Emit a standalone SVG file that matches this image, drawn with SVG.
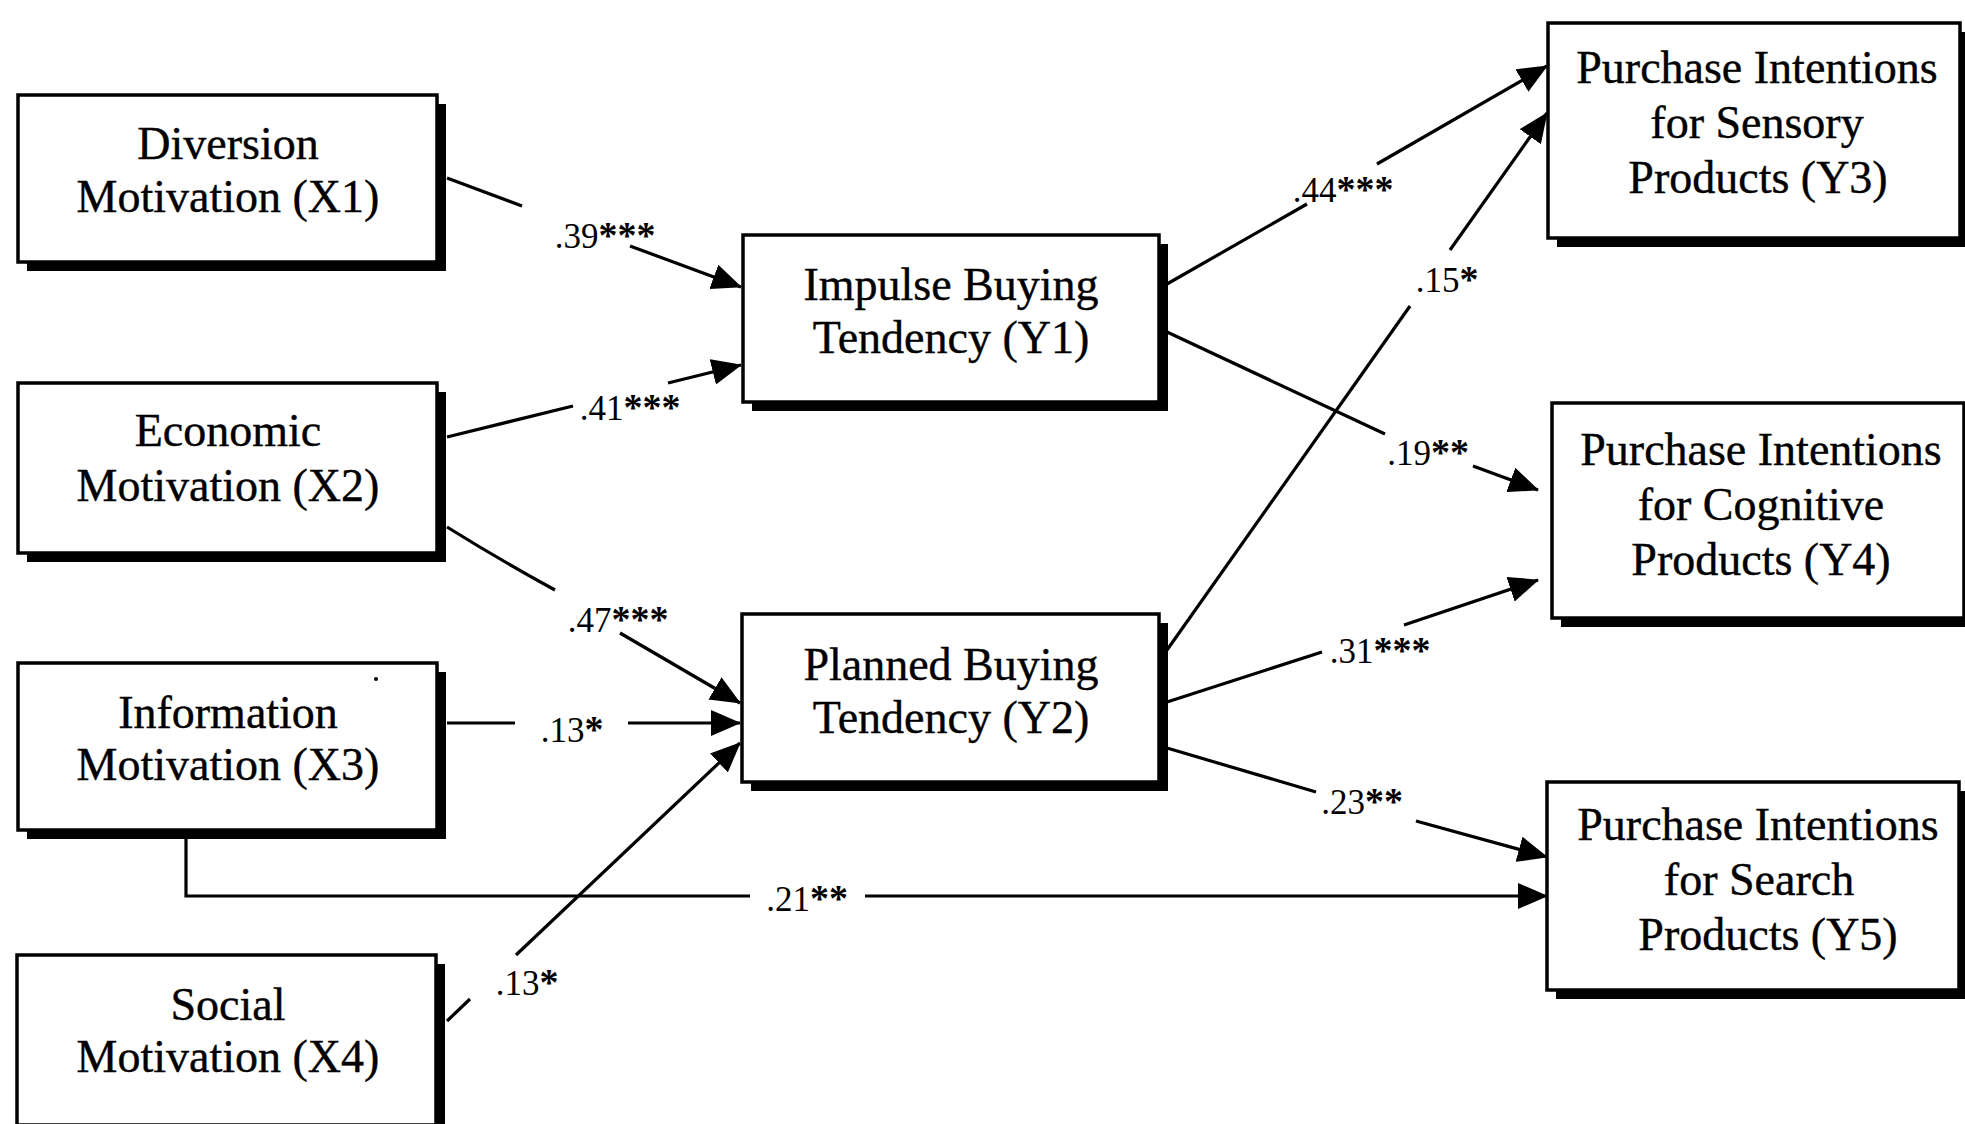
<svg xmlns="http://www.w3.org/2000/svg" width="1965" height="1124" viewBox="0 0 1965 1124">
<style>
.sh{fill:#000}
.bx{fill:#fff;stroke:#000;stroke-width:3.5}
.t{font-family:"Liberation Serif","Times New Roman",serif;font-size:46px;fill:#000;text-anchor:middle;stroke:#000;stroke-width:0.4}
.l{font-family:"Liberation Serif","Times New Roman",serif;font-size:35px;fill:#000;text-anchor:middle}
.a{font-weight:bold;font-size:38px}
.c{fill:none;stroke:#000;stroke-width:3.2}
</style>
<defs>
<marker id="ah" markerUnits="userSpaceOnUse" markerWidth="30" markerHeight="26" viewBox="0 0 30 26" refX="29" refY="13" orient="auto">
<path d="M0,0 L30,13 L0,26 Z" fill="#000"/>
</marker>
</defs>
<rect width="1965" height="1124" fill="#fff"/>
<g id="x1"><rect class="sh" x="27" y="104" width="419" height="167"/><rect class="bx" x="18" y="95" width="419" height="167"/><text class="t" x="228" y="159">Diversion</text><text class="t" x="228" y="212">Motivation (X1)</text></g>
<g id="x2"><rect class="sh" x="27" y="392" width="419" height="170"/><rect class="bx" x="18" y="383" width="419" height="170"/><text class="t" x="228" y="446">Economic</text><text class="t" x="228" y="501">Motivation (X2)</text></g>
<g id="x3"><rect class="sh" x="27" y="672" width="419" height="167"/><rect class="bx" x="18" y="663" width="419" height="167"/><text class="t" x="228" y="728">Information</text><text class="t" x="228" y="780">Motivation (X3)</text><circle cx="376" cy="679" r="2" fill="#000"/></g>
<g id="x4"><rect class="sh" x="26" y="964" width="419" height="170"/><rect class="bx" x="17" y="955" width="419" height="170"/><text class="t" x="228" y="1020">Social</text><text class="t" x="228" y="1072">Motivation (X4)</text></g>
<g id="y1"><rect class="sh" x="752" y="244" width="416" height="167"/><rect class="bx" x="743" y="235" width="416" height="167"/><text class="t" x="951" y="300">Impulse Buying</text><text class="t" x="951" y="353">Tendency (Y1)</text></g>
<g id="y2"><rect class="sh" x="751" y="623" width="417" height="168"/><rect class="bx" x="742" y="614" width="417" height="168"/><text class="t" x="951" y="680">Planned Buying</text><text class="t" x="951" y="733">Tendency (Y2)</text></g>
<g id="y3"><rect class="sh" x="1557" y="32" width="420" height="215"/><rect class="bx" x="1548" y="23" width="412" height="215"/><text class="t" x="1757" y="83">Purchase Intentions</text><text class="t" x="1757" y="138">for Sensory</text><text class="t" x="1758" y="193">Products (Y3)</text></g>
<g id="y4"><rect class="sh" x="1561" y="412" width="420" height="215"/><rect class="bx" x="1552" y="403" width="412" height="215"/><text class="t" x="1761" y="465">Purchase Intentions</text><text class="t" x="1761" y="520">for Cognitive</text><text class="t" x="1761" y="575">Products (Y4)</text></g>
<g id="y5"><rect class="sh" x="1556" y="791" width="420" height="208"/><rect class="bx" x="1547" y="782" width="412" height="208"/><text class="t" x="1758" y="840">Purchase Intentions</text><text class="t" x="1759" y="895">for Search</text><text class="t" x="1768" y="950">Products (Y5)</text></g>
<g id="connectors">
<path class="c" d="M447,178 L522,206"/><path class="c" d="M630,246 L741,287" marker-end="url(#ah)"/>
<path class="c" d="M447,437 L573,406"/><path class="c" d="M668,383 L741,365" marker-end="url(#ah)"/>
<path class="c" d="M447,527 Q500,560 555,590"/><path class="c" d="M620,633 L740,703" marker-end="url(#ah)"/>
<path class="c" d="M447,723 L515,723"/><path class="c" d="M628,723 L740,723" marker-end="url(#ah)"/>
<path class="c" d="M447,1021 L470,999"/><path class="c" d="M516,955 L740,743" marker-end="url(#ah)"/>
<path class="c" d="M186,839 L186,896 L750,896"/><path class="c" d="M865,896 L1547,896" marker-end="url(#ah)"/>
<path class="c" d="M1167,284 L1307,204"/><path class="c" d="M1377,164 L1547,66" marker-end="url(#ah)"/>
<path class="c" d="M1167,650 L1410,306"/><path class="c" d="M1450,250 L1547,113" marker-end="url(#ah)"/>
<path class="c" d="M1167,332 L1385,434"/><path class="c" d="M1473,466 L1538,490" marker-end="url(#ah)"/>
<path class="c" d="M1167,702 L1322,652"/><path class="c" d="M1404,625 L1538,580" marker-end="url(#ah)"/>
<path class="c" d="M1167,748 L1316,792"/><path class="c" d="M1416,821 L1547,857" marker-end="url(#ah)"/>
<text class="l" x="605" y="248">.39<tspan class="a">***</tspan></text>
<text class="l" x="630" y="420">.41<tspan class="a">***</tspan></text>
<text class="l" x="618" y="632">.47<tspan class="a">***</tspan></text>
<text class="l" x="572" y="742">.13<tspan class="a">*</tspan></text>
<text class="l" x="527" y="995">.13<tspan class="a">*</tspan></text>
<text class="l" x="807" y="911">.21<tspan class="a">**</tspan></text>
<text class="l" x="1343" y="202">.44<tspan class="a">***</tspan></text>
<text class="l" x="1447" y="292">.15<tspan class="a">*</tspan></text>
<text class="l" x="1428" y="465">.19<tspan class="a">**</tspan></text>
<text class="l" x="1380" y="663">.31<tspan class="a">***</tspan></text>
<text class="l" x="1362" y="814">.23<tspan class="a">**</tspan></text>
</g>
</svg>
